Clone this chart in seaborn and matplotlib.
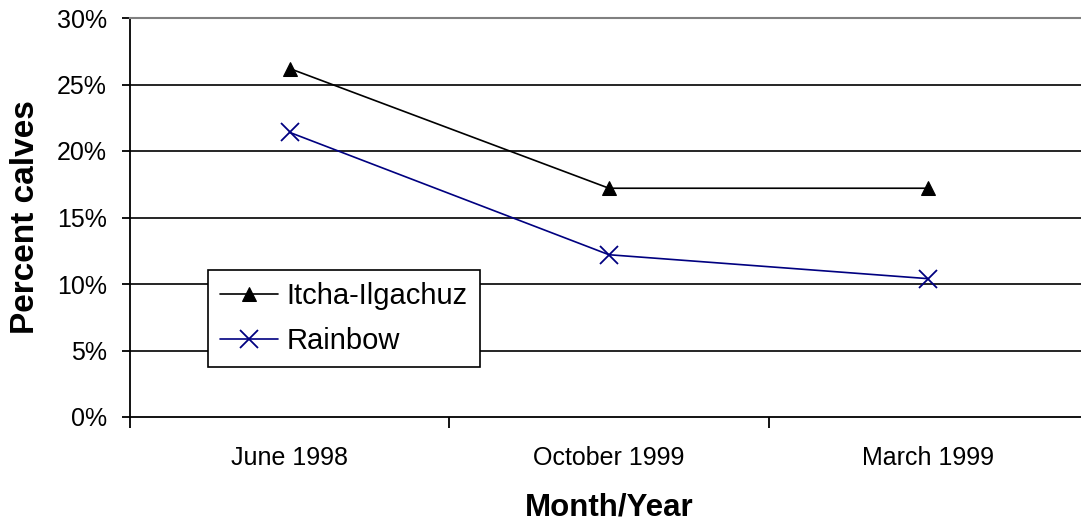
import pandas as pd
import matplotlib
matplotlib.use('Agg')
import matplotlib.pyplot as plt
import seaborn as sns
from matplotlib.ticker import PercentFormatter

# 数据
months = ['June 1998', 'October 1999', 'March 1999']
itcha = [26.2, 17.2, 17.2]
rainbow = [21.4, 12.2, 10.4]

df_itcha = pd.DataFrame({'Month/Year': months, 'Percent calves': itcha})
df_rainbow = pd.DataFrame({'Month/Year': months, 'Percent calves': rainbow})

sns.set_style('white')
plt.rcParams['font.family'] = ['Liberation Sans', 'DejaVu Sans']
plt.rcParams['text.color'] = 'black'
plt.rcParams['axes.labelcolor'] = 'black'
plt.rcParams['xtick.color'] = 'black'
plt.rcParams['ytick.color'] = 'black'

fig = plt.figure(figsize=(10.81, 5.25), dpi=100)
ax = fig.add_axes([130 / 1081, 108 / 525, 958 / 1081, 399 / 525])

sns.lineplot(data=df_itcha, x='Month/Year', y='Percent calves', color='black',
             marker='^', markersize=10.5, markeredgecolor='black', sort=False,
             linewidth=1.2, label='Itcha-Ilgachuz', ax=ax)
sns.lineplot(data=df_rainbow, x='Month/Year', y='Percent calves', color='#000080',
             marker='x', markersize=13, markeredgewidth=1.3, markeredgecolor='#000080',
             sort=False, linewidth=1.2, label='Rainbow', ax=ax)

ax.set_xlim(-0.5, 2.5)
ax.set_ylim(0, 30)
ax.set_yticks(range(0, 31, 5))
ax.yaxis.set_major_formatter(PercentFormatter(decimals=0))
ax.set_xticks([0, 1, 2])
ax.set_xticklabels(months)
ax.set_xticks([-0.5, 0.5, 1.5, 2.5], minor=True)
ax.tick_params(axis='x', which='major', length=0, pad=21, labelsize=18)
ax.tick_params(axis='x', which='minor', length=8, width=1.3, direction='out', bottom=True)
ax.tick_params(axis='y', length=6, width=1.3, direction='out', left=True, pad=10.5, labelsize=18)

# 网格线
for v in range(5, 30, 5):
    ax.axhline(v, color='black', lw=1.2, zorder=0)

for s in ['left', 'bottom']:
    ax.spines[s].set_color('black')
    ax.spines[s].set_linewidth(1.3)
ax.spines['top'].set_color('#808080')
ax.spines['top'].set_linewidth(1.5)
ax.spines['right'].set_visible(False)

ax.set_xlabel('Month/Year', fontsize=22.5, fontweight='bold', labelpad=16)
ax.set_ylabel('Percent calves', fontsize=24, fontweight='bold')
ax.yaxis.set_label_coords(-(130 - 26) / 958, 0.5)
ax.yaxis.label.set_verticalalignment('center')

leg = ax.legend(loc='lower left', bbox_to_anchor=(0.0814, 0.125), borderaxespad=0,
                fontsize=21, frameon=True, fancybox=False, edgecolor='black',
                framealpha=1, handlelength=2.0, handletextpad=0.3,
                borderpad=0.4, labelspacing=0.6)
leg.get_frame().set_linewidth(1.2)

fig.savefig('out.png', dpi=100)
